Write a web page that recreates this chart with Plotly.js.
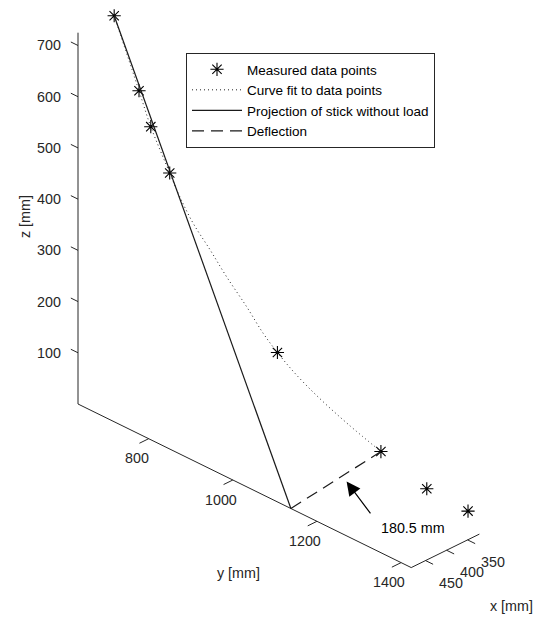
<!DOCTYPE html>
<html>
<head>
<meta charset="utf-8">
<script src="https://cdn.plot.ly/plotly-3.0.1.min.js"></script>
<style>html,body{margin:0;padding:0;background:#fff;} #chart{width:541px;height:618px;}</style>
</head>
<body>
<div id="chart"></div>
<script>
// ---- Data (mm) ----
// Measured data points
const measX = [400, 412, 418, 427, 410, 342, 354, 338];
const measY = [634, 705, 739, 793, 1032, 1210, 1331, 1413];
const measZ = [725, 612, 558, 493, 232, 83, 64, 47];

// Curve fit to data points
const fitX = [400, 412, 418, 427, 428, 427, 425, 422, 419, 415, 410, 400, 384, 364, 342];
const fitY = [634, 705, 739, 793, 818, 849, 887, 923, 968, 1003, 1032, 1066, 1106, 1153, 1210];
const fitZ = [725, 612, 558, 493, 457, 417, 380, 341, 299, 260, 232, 199, 162, 123, 83];

// Projection of stick without load
const projX = [400, 484];
const projY = [634, 1138];
const projZ = [725, 0];

// Deflection
const defX = [484, 342];
const defY = [1138, 1210];
const defZ = [0, 83];
const deflectionLabel = '180.5 mm';

// Axes
const xRange = [322, 484], yRange = [632, 1424], zRange = [0, 725];
const xTicks = [350, 400, 450];
const yTicks = [800, 1000, 1200, 1400];
const zTicks = [100, 200, 300, 400, 500, 600, 700];

// ---- 3D view (orthographic, like MATLAB view(az, el)) ----
const AZ = 45 * Math.PI / 180, EL = 29.4 * Math.PI / 180;
const SCALE = 0.595, ZASPECT = 0.988;
const ORIGIN_PX = [78, 404];               // screen position of box corner (xmax, ymin, zmin)
const sa = Math.sin(AZ), ca = Math.cos(AZ), se = Math.sin(EL), ce = Math.cos(EL);
function proj(x, y, z) {
  const dx = x - xRange[1], dy = y - yRange[0], dz = (z - zRange[0]) * ZASPECT;
  return [ORIGIN_PX[0] + SCALE * (-sa * dx + ca * dy),
          ORIGIN_PX[1] + SCALE * (ca * se * dx + sa * se * dy - ce * dz)];
}
function projArr(X, Y, Z) {
  const px = [], py = [];
  for (let i = 0; i < X.length; i++) { const p = proj(X[i], Y[i], Z[i]); px.push(p[0]); py.push(p[1]); }
  return {x: px, y: py};
}

const FONT = 'Liberation Sans, Arial, Helvetica, sans-serif';
const AXC = '#262626';
const FS = 14.3;

const traces = [];
function addLine(X, Y, Z, style, name) {
  const p = projArr(X, Y, Z);
  traces.push(Object.assign({type: 'scatter', mode: 'lines', x: p.x, y: p.y, hoverinfo: 'skip',
    showlegend: !!name, name: name || ''}, style));
}

// axis lines
const axLine = {line: {color: AXC, width: 1}, cliponaxis: false};
addLine([xRange[1], xRange[1]], [yRange[0], yRange[0]], [zRange[0], zRange[1]], axLine);
addLine([xRange[1], xRange[1]], [yRange[0], yRange[1]], [zRange[0], zRange[0]], axLine);
addLine([xRange[1], xRange[0]], [yRange[1], yRange[1]], [zRange[0], zRange[0]], axLine);

// ticks (in data units, drawn outwards like MATLAB)
const annotations = [];
const tickFont = {family: FONT, size: FS, color: AXC};
zTicks.forEach(v => {
  addLine([xRange[1], xRange[1]], [yRange[0], yRange[0] - 17], [v, v], axLine);
  const p = proj(xRange[1], yRange[0], v);
  annotations.push({x: p[0] - 15, y: p[1], text: String(v), showarrow: false, xanchor: 'right', yanchor: 'middle', font: tickFont});
});
yTicks.forEach(v => {
  addLine([xRange[1], xRange[1] + 22], [v, v], [zRange[0], zRange[0]], axLine);
  const p = proj(xRange[1], v, zRange[0]);
  annotations.push({x: p[0] - 12, y: p[1] + 19.5, text: String(v), showarrow: false, xanchor: 'center', yanchor: 'middle', font: tickFont});
});
xTicks.forEach(v => {
  addLine([v, v], [yRange[1], yRange[1] + 18], [zRange[0], zRange[0]], axLine);
  const p = proj(v, yRange[1], zRange[0]);
  annotations.push({x: p[0] + 25, y: p[1] + 22, text: String(v), showarrow: false, xanchor: 'center', yanchor: 'middle', font: tickFont});
});

// axis titles
const titleFont = {family: FONT, size: FS, color: AXC};
annotations.push({x: 25, y: 217, text: 'z [mm]', textangle: -90, showarrow: false, xanchor: 'center', yanchor: 'middle', font: titleFont});
annotations.push({x: 238, y: 572.5, text: 'y [mm]', showarrow: false, xanchor: 'center', yanchor: 'middle', font: titleFont});
annotations.push({x: 511.5, y: 606, text: 'x [mm]', showarrow: false, xanchor: 'center', yanchor: 'middle', font: titleFont});

// data traces
const mp = projArr(measX, measY, measZ);
traces.push({type: 'scatter', mode: 'markers', x: mp.x, y: mp.y, name: 'Measured data points', hoverinfo: 'skip',
  cliponaxis: false,
  marker: {symbol: 'asterisk-open', size: 11, color: '#000', line: {color: '#000', width: 1.1}}});
addLine(fitX, fitY, fitZ, {line: {color: '#222', width: 1, dash: '1px,3px', shape: 'spline', smoothing: 1}}, 'Curve fit to data points');
addLine(projX, projY, projZ, {line: {color: '#1a1a1a', width: 1.2}}, 'Projection of stick without load');
addLine(defX, defY, defZ, {line: {color: '#1a1a1a', width: 1.2, dash: '12px,7px'}}, 'Deflection');

// arrow + label pointing at deflection line
const tA = 0.572;
const ap = proj(defX[0] + tA * (defX[1] - defX[0]), defY[0] + tA * (defY[1] - defY[0]), defZ[0] + tA * (defZ[1] - defZ[0]));
annotations.push({x: ap[0], y: ap[1], text: '', showarrow: true, axref: 'pixel', ayref: 'pixel', ax: 29.2, ay: 39,
  arrowhead: 2, arrowsize: 2.3, arrowwidth: 1.2, arrowcolor: '#000', standoff: 7});
annotations.push({x: ap[0] + 70.5, y: ap[1] + 52, text: deflectionLabel, showarrow: false, xanchor: 'center', yanchor: 'middle',
  font: {family: FONT, size: FS, color: '#000'}});

const layout = {
  width: 541, height: 618, margin: {l: 0, r: 0, t: 0, b: 0},
  paper_bgcolor: '#fff', plot_bgcolor: '#fff',
  xaxis: {range: [0, 541], visible: false, fixedrange: true},
  yaxis: {range: [618, 0], visible: false, fixedrange: true},
  showlegend: true,
  legend: {x: 186 / 541, y: 1 - 53 / 618, xanchor: 'left', yanchor: 'top', bordercolor: AXC, borderwidth: 1,
    bgcolor: '#fff', font: {family: FONT, size: 13.5, color: '#000'}, itemwidth: 50, tracegroupgap: 0,
    entrywidth: 255, entrywidthmode: 'pixels'},
  annotations: annotations
};

Plotly.newPlot('chart', traces, layout, {displayModeBar: false, staticPlot: true});
</script>
</body>
</html>
